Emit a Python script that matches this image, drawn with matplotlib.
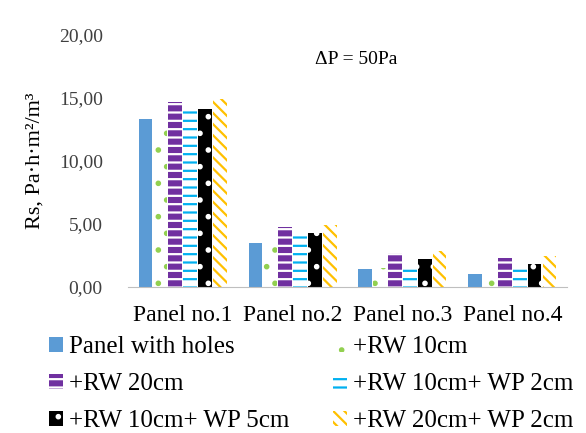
import matplotlib.pyplot as plt
import numpy as np

plt.rcParams['font.family'] = ['Liberation Serif', 'DejaVu Serif']
plt.rcParams['hatch.linewidth'] = 1.6

panels = ['Panel no.1', 'Panel no.2', 'Panel no.3', 'Panel no.4']
series = ['Panel with holes', '+RW 10cm', '+RW 20cm',
          '+RW 10cm+ WP 2cm', '+RW 10cm+ WP 5cm', '+RW 20cm+ WP 2cm']

holes = [13.3, 3.5, 1.4, 1.0]
rw10 = [13.0, 3.6, 1.5, 0.7]
rw20 = [14.7, 4.8, 2.7, 2.3]
rw10_wp2 = [14.3, 4.2, 1.8, 1.6]
rw10_wp5 = [14.1, 4.3, 2.2, 1.8]
rw20_wp2 = [14.9, 4.9, 2.9, 2.5]

values = [holes, rw10, rw20, rw10_wp2, rw10_wp5, rw20_wp2]
# (face, hatch colour, hatch)
styles = [
    ('#5B9BD5', '#5B9BD5', None),
    ('white', '#92D050', '.'),
    ('#7030A0', 'white', '--'),
    ('white', '#00B0F0', '--'),
    ('black', 'white', '.'),
    ('white', '#FFC000', '\\\\\\'),
]

fig = plt.figure(figsize=(5.86, 4.33), dpi=100)
ax = fig.add_axes([0.218, 0.337, 0.75, 0.582])

x = np.arange(len(panels))
w = 0.125
bars = []
for i, (vals, (fc, hc, h)) in enumerate(zip(values, styles)):
    b = ax.bar(x + (i - 2.5) * 0.135, vals, w, color=fc, edgecolor=hc,
               hatch=h, linewidth=0, label=series[i])
    bars.append(b)

ax.set_ylim(0, 20)
ax.set_xlim(-0.5, 3.5)
ax.set_yticks([0, 5, 10, 15, 20])
ax.set_yticklabels(['0,00', '5,00', '10,00', '15,00', '20,00'])
ax.set_xticks(x)
ax.set_xticklabels(panels)
ax.tick_params(axis='y', length=0, labelsize=14, colors='#404040', pad=18)
ax.tick_params(axis='x', length=0, labelsize=17, pad=13)
for s in ['top', 'right', 'left']:
    ax.spines[s].set_visible(False)
ax.spines['bottom'].set_color('#BFBFBF')

ax.set_ylabel('Rs, Pa·h·m²/m³', fontsize=16, labelpad=10)
ax.text(0.52, 0.905, 'ΔP = 50Pa', transform=ax.transAxes, fontsize=14,
        ha='center', va='center')

# legend filled row by row: reorder for matplotlib's column filling
order = [0, 2, 4, 1, 3, 5]
fig.legend([bars[k] for k in order], [series[k] for k in order],
           loc='lower left', bbox_to_anchor=(0.045, -0.05), ncol=2,
           frameon=False, fontsize=18, handlelength=0.55, handleheight=0.55,
           handletextpad=0.25, columnspacing=1.75, labelspacing=0.6)

fig.savefig('out.png', dpi=100)
